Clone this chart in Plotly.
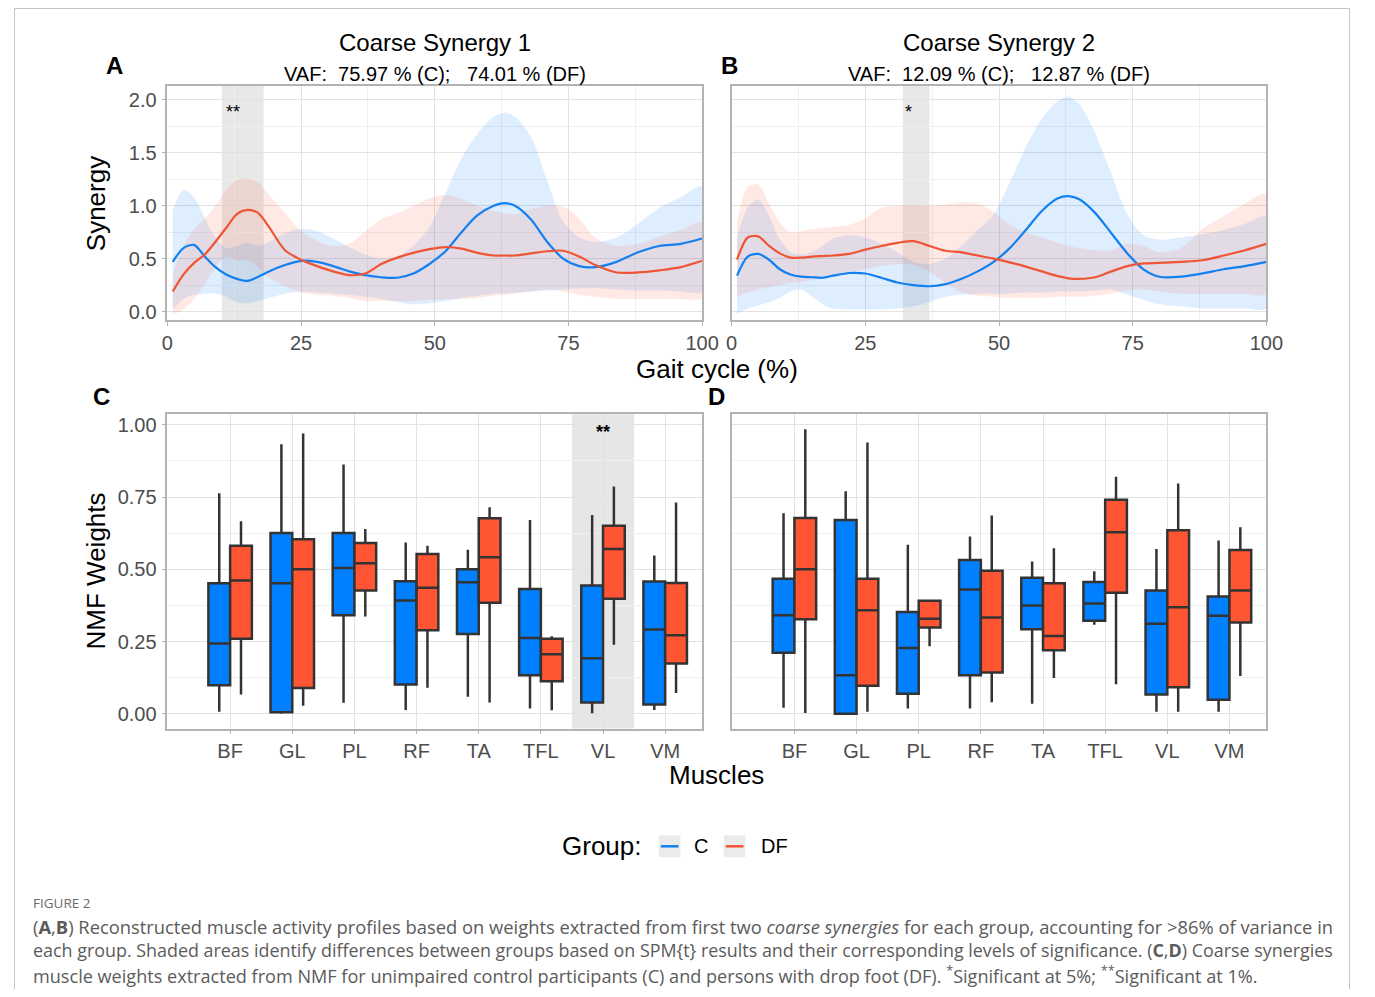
import plotly.graph_objects as go

# ---------------- DATA ----------------
gait_pct = [1, 3, 5, 7, 9, 11, 13, 15, 17, 19, 22, 25, 28, 31, 34, 37, 40, 43, 46, 49,
            52, 55, 58, 61, 63, 65, 68, 71, 74, 77, 80, 84, 88, 92, 96, 100]

# Synergy 1 (panel A)
syn1_C_mean = [0.47, 0.60, 0.63, 0.52, 0.42, 0.35, 0.31, 0.29, 0.33, 0.38, 0.44, 0.48, 0.47, 0.43, 0.38, 0.345,
               0.325, 0.32, 0.36, 0.45, 0.57, 0.75, 0.91, 1.00, 1.025, 1.00, 0.87, 0.66, 0.50, 0.43, 0.42,
               0.47, 0.56, 0.62, 0.64, 0.69]
syn1_C_upper = [0.95, 1.15, 1.08, 0.88, 0.70, 0.60, 0.62, 0.65, 0.62, 0.66, 0.74, 0.78, 0.76, 0.69, 0.61, 0.54,
                0.50, 0.52, 0.62, 0.80, 1.12, 1.45, 1.68, 1.84, 1.88, 1.84, 1.65, 1.24, 0.85, 0.70, 0.66,
                0.70, 0.83, 0.98, 1.08, 1.18]
syn1_C_lower = [0.02, 0.12, 0.16, 0.17, 0.17, 0.14, 0.09, 0.08, 0.10, 0.13, 0.17, 0.19, 0.18, 0.17, 0.16, 0.14,
                0.12, 0.09, 0.07, 0.08, 0.10, 0.13, 0.15, 0.17, 0.17, 0.18, 0.19, 0.20, 0.21, 0.22, 0.22,
                0.21, 0.20, 0.20, 0.19, 0.19]
syn1_DF_mean = [0.19, 0.35, 0.46, 0.54, 0.66, 0.79, 0.92, 0.96, 0.93, 0.80, 0.58, 0.49, 0.43, 0.38, 0.345, 0.36,
                0.45, 0.51, 0.555, 0.59, 0.61, 0.595, 0.555, 0.53, 0.53, 0.53, 0.55, 0.57, 0.575, 0.52, 0.44,
                0.37, 0.37, 0.39, 0.42, 0.48]
syn1_DF_upper = [0.35, 0.62, 0.78, 0.88, 1.00, 1.15, 1.24, 1.26, 1.22, 1.10, 0.93, 0.76, 0.67, 0.62, 0.64, 0.76,
                 0.87, 0.93, 1.00, 1.07, 1.10, 1.06, 1.00, 0.95, 0.93, 0.92, 0.97, 1.00, 0.99, 0.88, 0.70,
                 0.62, 0.64, 0.71, 0.77, 0.84]
syn1_DF_lower = [-0.03, 0.02, 0.12, 0.26, 0.42, 0.52, 0.48, 0.49, 0.42, 0.32, 0.24, 0.18, 0.16, 0.15, 0.13, 0.10,
                 0.10, 0.10, 0.10, 0.11, 0.12, 0.12, 0.13, 0.15, 0.16, 0.17, 0.19, 0.21, 0.19, 0.16, 0.14,
                 0.12, 0.12, 0.12, 0.12, 0.13]

# Synergy 2 (panel B)
syn2_C_mean = [0.34, 0.52, 0.545, 0.49, 0.40, 0.35, 0.33, 0.325, 0.32, 0.34, 0.365, 0.36, 0.32, 0.275, 0.25, 0.24,
               0.26, 0.31, 0.38, 0.47, 0.60, 0.77, 0.95, 1.07, 1.09, 1.06, 0.93, 0.74, 0.55, 0.40, 0.33,
               0.33, 0.36, 0.40, 0.43, 0.47]
syn2_C_upper = [0.70, 0.98, 1.06, 0.90, 0.68, 0.56, 0.54, 0.56, 0.62, 0.69, 0.72, 0.70, 0.64, 0.56, 0.47, 0.45,
                0.50, 0.62, 0.77, 0.92, 1.22, 1.55, 1.82, 1.99, 2.03, 1.96, 1.68, 1.30, 0.92, 0.72, 0.68,
                0.70, 0.73, 0.77, 0.83, 0.90]
syn2_C_lower = [-0.02, 0.03, 0.06, 0.09, 0.13, 0.19, 0.21, 0.14, 0.07, 0.03, 0.02, 0.02, 0.02, 0.03, 0.05, 0.09,
                0.14, 0.16, 0.17, 0.17, 0.17, 0.18, 0.18, 0.19, 0.19, 0.19, 0.20, 0.21, 0.16, 0.11, 0.07,
                0.05, 0.03, 0.03, 0.03, 0.03]
syn2_DF_mean = [0.49, 0.70, 0.71, 0.62, 0.55, 0.51, 0.51, 0.52, 0.525, 0.53, 0.545, 0.585, 0.62, 0.65, 0.665, 0.62,
                0.575, 0.56, 0.53, 0.50, 0.465, 0.425, 0.38, 0.335, 0.315, 0.31, 0.325, 0.38, 0.43, 0.455, 0.46,
                0.47, 0.485, 0.53, 0.58, 0.64]
syn2_DF_upper = [0.85, 1.18, 1.20, 1.02, 0.84, 0.75, 0.76, 0.78, 0.79, 0.80, 0.82, 0.88, 0.98, 1.00, 1.01, 1.00,
                 1.01, 1.03, 1.02, 0.94, 0.82, 0.75, 0.70, 0.65, 0.62, 0.60, 0.58, 0.58, 0.64, 0.62, 0.56,
                 0.60, 0.78, 0.90, 1.02, 1.11]
syn2_DF_lower = [0.14, 0.18, 0.21, 0.23, 0.25, 0.27, 0.28, 0.30, 0.32, 0.34, 0.37, 0.40, 0.43, 0.45, 0.44, 0.38,
                 0.27, 0.18, 0.15, 0.14, 0.13, 0.13, 0.13, 0.14, 0.14, 0.14, 0.15, 0.17, 0.20, 0.21, 0.19,
                 0.17, 0.17, 0.17, 0.17, 0.17]

# significance regions (gait cycle %)
sig1_range = [10.2, 18.0]
sig2_range = [32.0, 37.0]

muscles = ["BF", "GL", "PL", "RF", "TA", "TFL", "VL", "VM"]

# Panel C: synergy 1 weights  [lower whisker, Q1, median, Q3, upper whisker]
w1_C_low = [0.007, 0.000, 0.038, 0.013, 0.059, 0.018, 0.002, 0.013]
w1_C_q1 = [0.099, 0.005, 0.341, 0.101, 0.276, 0.133, 0.039, 0.032]
w1_C_med = [0.243, 0.452, 0.505, 0.392, 0.455, 0.262, 0.192, 0.292]
w1_C_q3 = [0.452, 0.626, 0.626, 0.459, 0.500, 0.432, 0.444, 0.458]
w1_C_high = [0.763, 0.933, 0.863, 0.593, 0.568, 0.671, 0.688, 0.548]
w1_DF_low = [0.067, 0.028, 0.337, 0.090, 0.039, 0.012, 0.239, 0.072]
w1_DF_q1 = [0.260, 0.089, 0.427, 0.289, 0.384, 0.113, 0.398, 0.174]
w1_DF_med = [0.461, 0.500, 0.521, 0.436, 0.542, 0.206, 0.570, 0.272]
w1_DF_q3 = [0.582, 0.604, 0.591, 0.553, 0.677, 0.260, 0.651, 0.453]
w1_DF_high = [0.666, 0.970, 0.640, 0.582, 0.715, 0.268, 0.787, 0.731]

# Panel D: synergy 2 weights
w2_C_low = [0.021, 0.000, 0.018, 0.018, 0.035, 0.308, 0.007, 0.007]
w2_C_q1 = [0.211, 0.000, 0.069, 0.133, 0.293, 0.322, 0.067, 0.049]
w2_C_med = [0.341, 0.133, 0.228, 0.430, 0.375, 0.382, 0.312, 0.339]
w2_C_q3 = [0.467, 0.671, 0.352, 0.532, 0.471, 0.456, 0.427, 0.406]
w2_C_high = [0.694, 0.770, 0.585, 0.614, 0.527, 0.493, 0.570, 0.600]
w2_DF_low = [0.003, 0.007, 0.234, 0.040, 0.124, 0.102, 0.007, 0.131]
w2_DF_q1 = [0.327, 0.097, 0.299, 0.143, 0.220, 0.419, 0.092, 0.316]
w2_DF_med = [0.500, 0.358, 0.329, 0.333, 0.269, 0.628, 0.369, 0.427]
w2_DF_q3 = [0.678, 0.467, 0.391, 0.495, 0.452, 0.741, 0.635, 0.567]
w2_DF_high = [0.985, 0.939, 0.392, 0.686, 0.573, 0.820, 0.797, 0.646]

sig_muscle_C = "VL"

# ---------------- STYLE ----------------
PAGE_OFF = 8                      # browser default body margin
W, H = 1375 - 2 * PAGE_OFF, 997 - 2 * PAGE_OFF
FONT = "Liberation Sans, Arial, Helvetica, sans-serif"
BLUE_LINE, RED_LINE = "#1380F0", "#EF5535"
BLUE_FILL, RED_FILL = "rgba(0,127,255,0.13)", "rgba(255,85,51,0.13)"
BLUE_BOX, RED_BOX = "#007FFF", "#FF5533"
GRID, MINOR = "#E2E2E2", "#EFEFEF"
FRAME = "#B3B3B3"
TICKTXT = "#4D4D4D"


def xp(px):
    return (px - PAGE_OFF) / W


def yp(py):
    return 1 - (py - PAGE_OFF) / H


fig = go.Figure()


def add_profile(xa, ya, mC, uC, lC, mD, uD, lD):
    for up, lo, col in [(uC, lC, BLUE_FILL), (uD, lD, RED_FILL)]:
        fig.add_trace(go.Scatter(
            x=gait_pct + gait_pct[::-1], y=up + lo[::-1], fill="toself", fillcolor=col,
            line=dict(width=0, shape="spline", smoothing=0.8), mode="lines",
            xaxis=xa, yaxis=ya, showlegend=False, hoverinfo="skip"))
    for m, col in [(mC, BLUE_LINE), (mD, RED_LINE)]:
        fig.add_trace(go.Scatter(
            x=gait_pct, y=m, mode="lines", line=dict(color=col, width=2.2, shape="spline", smoothing=0.8),
            xaxis=xa, yaxis=ya, showlegend=False))


add_profile("x", "y", syn1_C_mean, syn1_C_upper, syn1_C_lower, syn1_DF_mean, syn1_DF_upper, syn1_DF_lower)
add_profile("x2", "y2", syn2_C_mean, syn2_C_upper, syn2_C_lower, syn2_DF_mean, syn2_DF_upper, syn2_DF_lower)


def add_boxes(xa, ya, groups):
    for name, (lo, q1, med, q3, hi), col in groups:
        fig.add_trace(go.Box(
            x=muscles, lowerfence=lo, q1=q1, median=med, q3=q3, upperfence=hi,
            fillcolor=col, line=dict(color="#333333", width=2.5), whiskerwidth=0,
            boxpoints=False, offsetgroup=name, name=name, xaxis=xa, yaxis=ya, showlegend=False))


add_boxes("x3", "y3", [("C", (w1_C_low, w1_C_q1, w1_C_med, w1_C_q3, w1_C_high), BLUE_BOX),
                       ("DF", (w1_DF_low, w1_DF_q1, w1_DF_med, w1_DF_q3, w1_DF_high), RED_BOX)])
add_boxes("x4", "y4", [("C", (w2_C_low, w2_C_q1, w2_C_med, w2_C_q3, w2_C_high), BLUE_BOX),
                       ("DF", (w2_DF_low, w2_DF_q1, w2_DF_med, w2_DF_q3, w2_DF_high), RED_BOX)])

# ---------------- AXES ----------------
tickfont = dict(family=FONT, size=20, color=TICKTXT)
common = dict(showline=True, mirror=True, linecolor=FRAME, linewidth=1.5, gridcolor=GRID, gridwidth=1,
              zeroline=False, tickfont=tickfont, tickcolor=FRAME, ticklen=4, tickwidth=1)
xdomA = [xp(164), xp(708)]
xdomB = [xp(738), xp(1282)]
ydomTop = [yp(321), yp(86)]
ydomBot = [yp(730), yp(415)]
yrTop = [-0.082, 2.131]
yrBot = [-0.051, 1.037]
cat_range = [-1.01, 7.595]

fig.update_layout(
    xaxis=dict(domain=xdomA, anchor="y", range=[0, 100], tickvals=[0, 25, 50, 75, 100], ticks="outside",
               minor=dict(dtick=12.5, showgrid=True, gridcolor=MINOR, ticks=""), **common),
    yaxis=dict(domain=ydomTop, anchor="x", range=yrTop, dtick=0.5, tick0=0, tickformat=".1f", ticks="outside",
               ticklabelstandoff=1,
               minor=dict(dtick=0.25, showgrid=True, gridcolor=MINOR, ticks=""), **common),
    xaxis2=dict(domain=xdomB, anchor="y2", range=[0, 100], tickvals=[0, 25, 50, 75, 100], ticks="outside",
                minor=dict(dtick=12.5, showgrid=True, gridcolor=MINOR, ticks=""), **common),
    yaxis2=dict(domain=ydomTop, anchor="x2", range=yrTop, dtick=0.5, tick0=0, showticklabels=False, ticks="",
                minor=dict(dtick=0.25, showgrid=True, gridcolor=MINOR, ticks=""), **common),
    xaxis3=dict(domain=xdomA, anchor="y3", type="category", categoryorder="array", categoryarray=muscles,
                range=cat_range, ticks="outside", **common),
    yaxis3=dict(domain=ydomBot, anchor="x3", range=yrBot, dtick=0.25, tick0=0, tickformat=".2f", ticks="outside",
                ticklabelstandoff=1,
                minor=dict(dtick=0.125, showgrid=True, gridcolor=MINOR, ticks=""), **common),
    xaxis4=dict(domain=xdomB, anchor="y4", type="category", categoryorder="array", categoryarray=muscles,
                range=cat_range, ticks="outside", **common),
    yaxis4=dict(domain=ydomBot, anchor="x4", range=yrBot, dtick=0.25, tick0=0, showticklabels=False, ticks="",
                minor=dict(dtick=0.125, showgrid=True, gridcolor=MINOR, ticks=""), **common),
    boxmode="group", boxgap=0.3, boxgroupgap=0.0,
    width=W, height=H, autosize=False, margin=dict(l=0, r=0, t=0, b=0),
    paper_bgcolor="white", plot_bgcolor="white", showlegend=False,
    font=dict(family=FONT, color="black"),
)

# ---------------- SHAPES ----------------
shapes = [
    dict(type="rect", xref="paper", yref="paper", x0=0.5 / W, x1=1 - 0.5 / W, y0=-0.05, y1=1 - 0.5 / H,
         line=dict(color="#C4C4C4", width=1), fillcolor="rgba(0,0,0,0)", layer="above"),
    dict(type="rect", xref="x", yref="y domain", x0=sig1_range[0], x1=sig1_range[1], y0=0, y1=1,
         fillcolor="#E8E8E8", line=dict(width=0), layer="below"),
    dict(type="rect", xref="x2", yref="y2 domain", x0=sig2_range[0], x1=sig2_range[1], y0=0, y1=1,
         fillcolor="#E8E8E8", line=dict(width=0), layer="below"),
    dict(type="rect", xref="x3", yref="y3 domain", x0=muscles.index(sig_muscle_C) - 0.5,
         x1=muscles.index(sig_muscle_C) + 0.5, y0=0, y1=1,
         fillcolor="#E6E6E6", line=dict(width=0), layer="below"),
]
# legend keys
for (kx0, kx1), col in [((664, 686), BLUE_LINE), ((730, 752), RED_LINE)]:
    shapes.append(dict(type="rect", xref="paper", yref="paper", x0=xp(kx0), x1=xp(kx1), y0=yp(859), y1=yp(837),
                       fillcolor="#EBEBEB", line=dict(width=0)))
    shapes.append(dict(type="line", xref="paper", yref="paper", x0=xp(kx0 + 2), x1=xp(kx1 - 2), y0=yp(848),
                       y1=yp(848), line=dict(color=col, width=2.5)))
fig.update_layout(shapes=shapes)

# ---------------- ANNOTATIONS ----------------
ann = []


def txt(x, y, s, size, xanchor="center", yanchor="middle", color="black", family=FONT, angle=0, **kw):
    ann.append(dict(x=xp(x), y=yp(y), xref="paper", yref="paper", text=s, showarrow=False,
                    xanchor=xanchor, yanchor=yanchor, textangle=angle,
                    font=dict(size=size, color=color, family=family), **kw))


NB = "\u00a0"
txt(436, 43, "Coarse Synergy 1", 24)
txt(436, 74, f"VAF:{NB}{NB}75.97 % (C);{NB}{NB}{NB}74.01 % (DF)", 20)
txt(1010, 43, "Coarse Synergy 2", 24)
txt(1010, 74, f"VAF:{NB}{NB}12.09 % (C);{NB}{NB}{NB}12.87 % (DF)", 20)
txt(110, 66, "<b>A</b>", 24)
txt(736, 66, "<b>B</b>", 24)
txt(97, 397, "<b>C</b>", 24)
txt(723, 397, "<b>D</b>", 24)
txt(91, 204, "Synergy", 26, angle=-90)
txt(91, 572, "NMF Weights", 26, angle=-90)
txt(723, 370, "Gait cycle (%)", 26)
txt(723, 777, "Muscles", 26)
txt(649, 848, "Group:", 26, xanchor="right")
txt(707, 848, "C", 20)
txt(766, 848, "DF", 20, xanchor="left")

# significance asterisks (data coordinates)
ann.append(dict(x=sum(sig1_range) / 2 - 1.9, y=1.88, xref="x", yref="y", text="**", showarrow=False,
                font=dict(size=18, family=FONT, color="black")))
ann.append(dict(x=sum(sig2_range) / 2 - 1.5, y=1.88, xref="x2", yref="y2", text="*", showarrow=False,
                font=dict(size=18, family=FONT, color="black")))
ann.append(dict(x=sig_muscle_C, y=0.975, xref="x3", yref="y3", text="<b>**</b>", showarrow=False,
                font=dict(size=18, family=FONT, color="black")))

CAP = "Open Sans, sans-serif"
CAPCOL = "#5B5B5B"
txt(25, 905, "FIGURE 2", 13.5, xanchor="left", color="#6A6A6A", family=CAP)
txt(25, 928, "(<b>A</b>,<b>B</b>) Reconstructed muscle activity profiles based on weights extracted from first two "
             "<i>coarse synergies</i> for each group, accounting for &gt;86% of variance in", 18.35,
    xanchor="left", color=CAPCOL, family=CAP)
txt(25, 952, "each group. Shaded areas identify differences between groups based on SPM{t} results and their "
             "corresponding levels of significance. (<b>C</b>,<b>D</b>) Coarse synergies", 17.9,
    xanchor="left", color=CAPCOL, family=CAP)
txt(25, 976, "muscle weights extracted from NMF for unimpaired control participants (C) and persons with drop foot "
             "(DF). <sup>*</sup>Significant at 5%; <sup>**</sup>Significant at 1%.", 18.1,
    xanchor="left", color=CAPCOL, family=CAP)

fig.update_layout(annotations=ann)
fig.write_html("out.html")
